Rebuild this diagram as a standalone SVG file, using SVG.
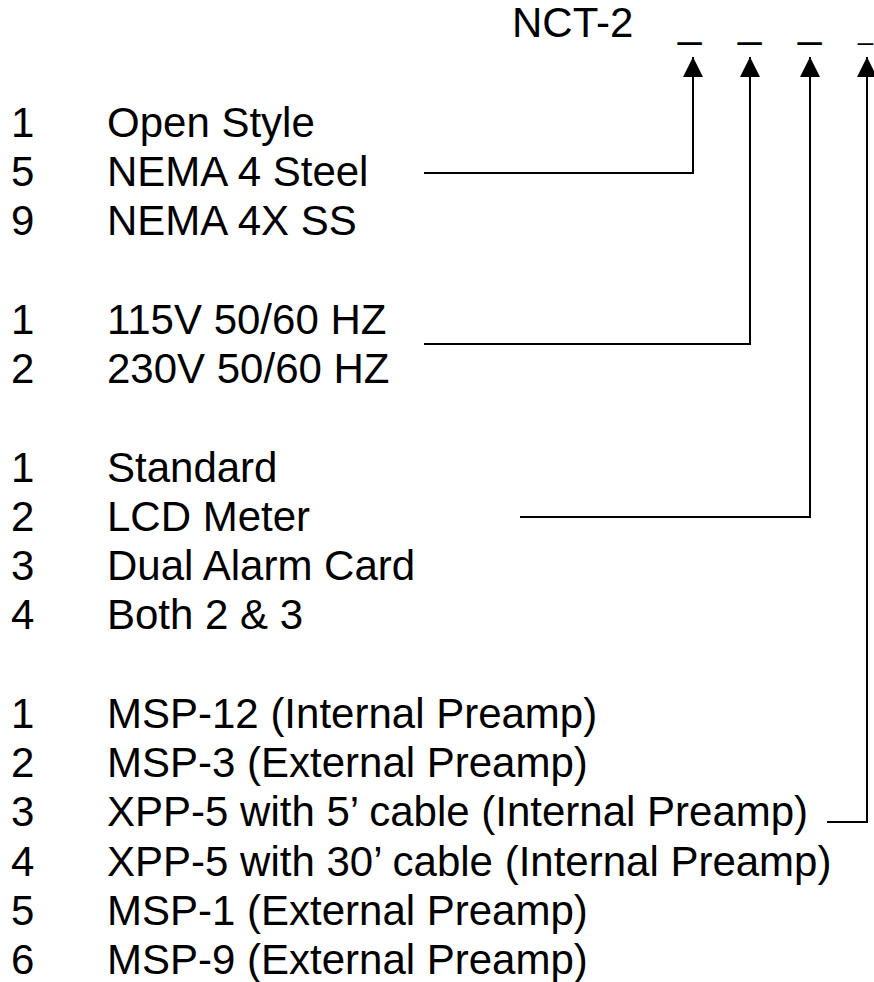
<svg xmlns="http://www.w3.org/2000/svg" width="874" height="982" viewBox="0 0 874 982">
<style>
text{font-family:"Liberation Sans",Arial,sans-serif;font-size:42px;fill:#000}
.c{fill:none;stroke:#000;stroke-width:2;marker-end:url(#ah)}
</style>
<defs>
<marker id="ah" markerUnits="userSpaceOnUse" markerWidth="20" markerHeight="20" viewBox="0 0 20 20" refX="20" refY="10" orient="auto">
<path d="M0,0 L20,10 L0,20 z" fill="#000"/>
</marker>
</defs>
<rect width="874" height="982" fill="#fff"/>
<g id="model">
<text x="512" y="37">NCT-2</text>
<text x="678" y="37">_</text>
<text x="738" y="37">_</text>
<text x="798" y="37">_</text>
<text x="858" y="39" style="font-size:27px">_</text>
</g>
<g id="enclosure">
<text x="11" y="137">1</text><text x="107" y="137">Open Style</text>
<text x="11" y="186">5</text><text x="107" y="186">NEMA 4 Steel</text>
<text x="11" y="235">9</text><text x="107" y="235">NEMA 4X SS</text>
</g>
<g id="power">
<text x="11" y="334">1</text><text x="107" y="334">115V 50/60 HZ</text>
<text x="11" y="383">2</text><text x="107" y="383">230V 50/60 HZ</text>
</g>
<g id="options">
<text x="11" y="482">1</text><text x="107" y="482">Standard</text>
<text x="11" y="531">2</text><text x="107" y="531">LCD Meter</text>
<text x="11" y="580">3</text><text x="107" y="580">Dual Alarm Card</text>
<text x="11" y="629">4</text><text x="107" y="629">Both 2 &amp; 3</text>
</g>
<g id="sensor">
<text x="11" y="728">1</text><text x="107" y="728">MSP-12 (Internal Preamp)</text>
<text x="11" y="777">2</text><text x="107" y="777">MSP-3 (External Preamp)</text>
<text x="11" y="826">3</text><text x="107" y="826">XPP-5 with 5’ cable (Internal Preamp)</text>
<text x="11" y="876">4</text><text x="107" y="876">XPP-5 with 30’ cable (Internal Preamp)</text>
<text x="11" y="925">5</text><text x="107" y="925">MSP-1 (External Preamp)</text>
<text x="11" y="974">6</text><text x="107" y="974">MSP-9 (External Preamp)</text>
</g>
<g id="connectors">
<path class="c" d="M424,173 H693 V57"/>
<path class="c" d="M424,344 H750 V57"/>
<path class="c" d="M520,517 H810 V57"/>
<path class="c" d="M827,822 H867 V57"/>
</g>
</svg>
